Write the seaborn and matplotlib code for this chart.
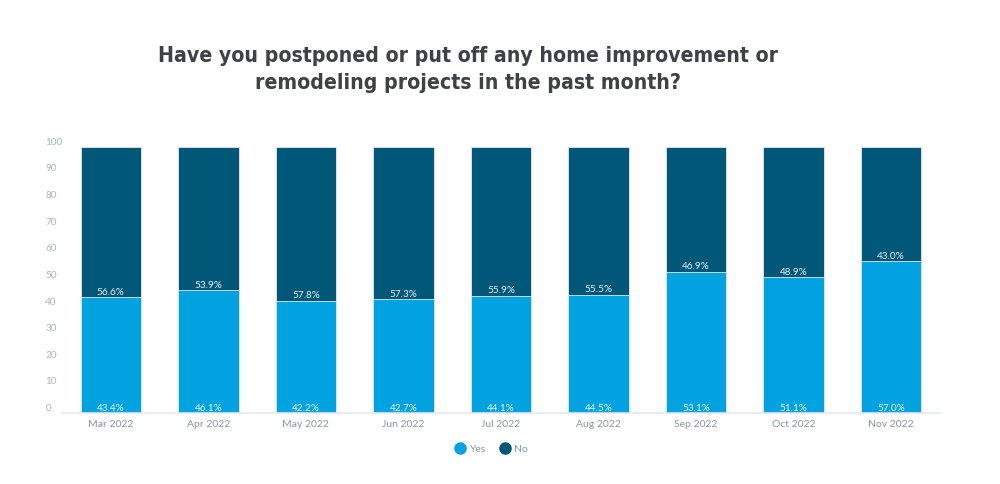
import matplotlib
matplotlib.use("Agg")
import os
import matplotlib.pyplot as plt
from matplotlib import font_manager
from matplotlib.lines import Line2D
import pandas as pd
import seaborn as sns

months = ["Mar 2022", "Apr 2022", "May 2022", "Jun 2022", "Jul 2022",
          "Aug 2022", "Sep 2022", "Oct 2022", "Nov 2022"]
yes_vals = [43.4, 46.1, 42.2, 42.7, 44.1, 44.5, 53.1, 51.1, 57.0]
no_vals = [56.6, 53.9, 57.8, 57.3, 55.9, 55.5, 46.9, 48.9, 43.0]
y_ticks = [0, 10, 20, 30, 40, 50, 60, 70, 80, 90, 100]

yes_color = "#00a3e0"
no_color = "#005778"


def find_condensed_bold():
    """Look for an installed bold condensed/narrow face for the title."""
    best = None
    for f in font_manager.fontManager.ttflist:
        base = os.path.basename(f.fname)
        if "Bold" not in base or "Italic" in base or "Oblique" in base:
            continue
        if "Extra" in base or "Semi" in base:
            continue
        if "Condensed" in base or "Narrow" in base:
            if best is None or "Noto" in base:
                best = f.fname
    return best


cond = find_condensed_bold()
if cond:
    title_props = dict(fontproperties=font_manager.FontProperties(fname=cond, size=15.2))
else:
    title_props = dict(family="Roboto", fontweight="bold", fontsize=15.5)

sns.set_style("white")
plt.rcParams["font.family"] = ["Lato", "DejaVu Sans"]

df = pd.DataFrame({"month": months, "yes": yes_vals, "no": no_vals})
df["total"] = df["yes"] + df["no"]

fig = plt.figure(figsize=(10, 4.84), dpi=100)
ax = fig.add_axes([0.062, 0.1467, 0.878, 0.55])

sns.barplot(data=df, x="month", y="total", color=no_color, width=0.62,
            saturation=1, edgecolor="#e3eaef", linewidth=0.6, ax=ax)
sns.barplot(data=df, x="month", y="yes", color=yes_color, width=0.62,
            saturation=1, edgecolor="#e3eaef", linewidth=0.6, ax=ax)

for i, (y, n) in enumerate(zip(yes_vals, no_vals)):
    ax.text(i, 0.0, f"{y:.1f}%", ha="center", va="bottom",
            fontsize=7.2, color="#eef6fb")
    ax.text(i, y + 0.1, f"{n:.1f}%", ha="center", va="bottom",
            fontsize=7.2, color="#e6eef3")

ax.set_xlim(-0.5, len(months) - 0.5)
ax.set_ylim(0, 100)
ax.set_yticks(y_ticks)
ax.set_yticklabels([str(t) for t in y_ticks])
ax.set_xlabel("")
ax.set_ylabel("")
ax.tick_params(axis="y", length=0, pad=12, labelsize=7.2, labelcolor="#a9b5c0")
ax.tick_params(axis="x", length=0, pad=5, labelsize=7.5, labelcolor="#8795a1")
for lab in ax.get_yticklabels():
    lab.set_horizontalalignment("left")
    lab.set_verticalalignment("bottom")

for side in ["top", "right", "left"]:
    ax.spines[side].set_visible(False)
ax.spines["bottom"].set_color("#e4e8ec")
ax.spines["bottom"].set_linewidth(1.2)

fig.text(0.468, 0.856, "Have you postponed or put off any home improvement or\nremodeling projects in the past month?",
         ha="center", va="center", color="#3d4244", linespacing=1.45, **title_props)

handles = [Line2D([0], [0], marker="o", color="none", markerfacecolor=yes_color,
                  markeredgecolor=yes_color, markersize=8, label="Yes"),
           Line2D([0], [0], marker="o", color="none", markerfacecolor=no_color,
                  markeredgecolor=no_color, markersize=8, label="No")]
fig.legend(handles=handles, loc="center", bbox_to_anchor=(0.491, 0.072), ncol=2,
           frameon=False, fontsize=7.5, labelcolor="#8795a1", handletextpad=0.3,
           columnspacing=1.2, handlelength=1.2)

fig.savefig("out.png", dpi=100)
